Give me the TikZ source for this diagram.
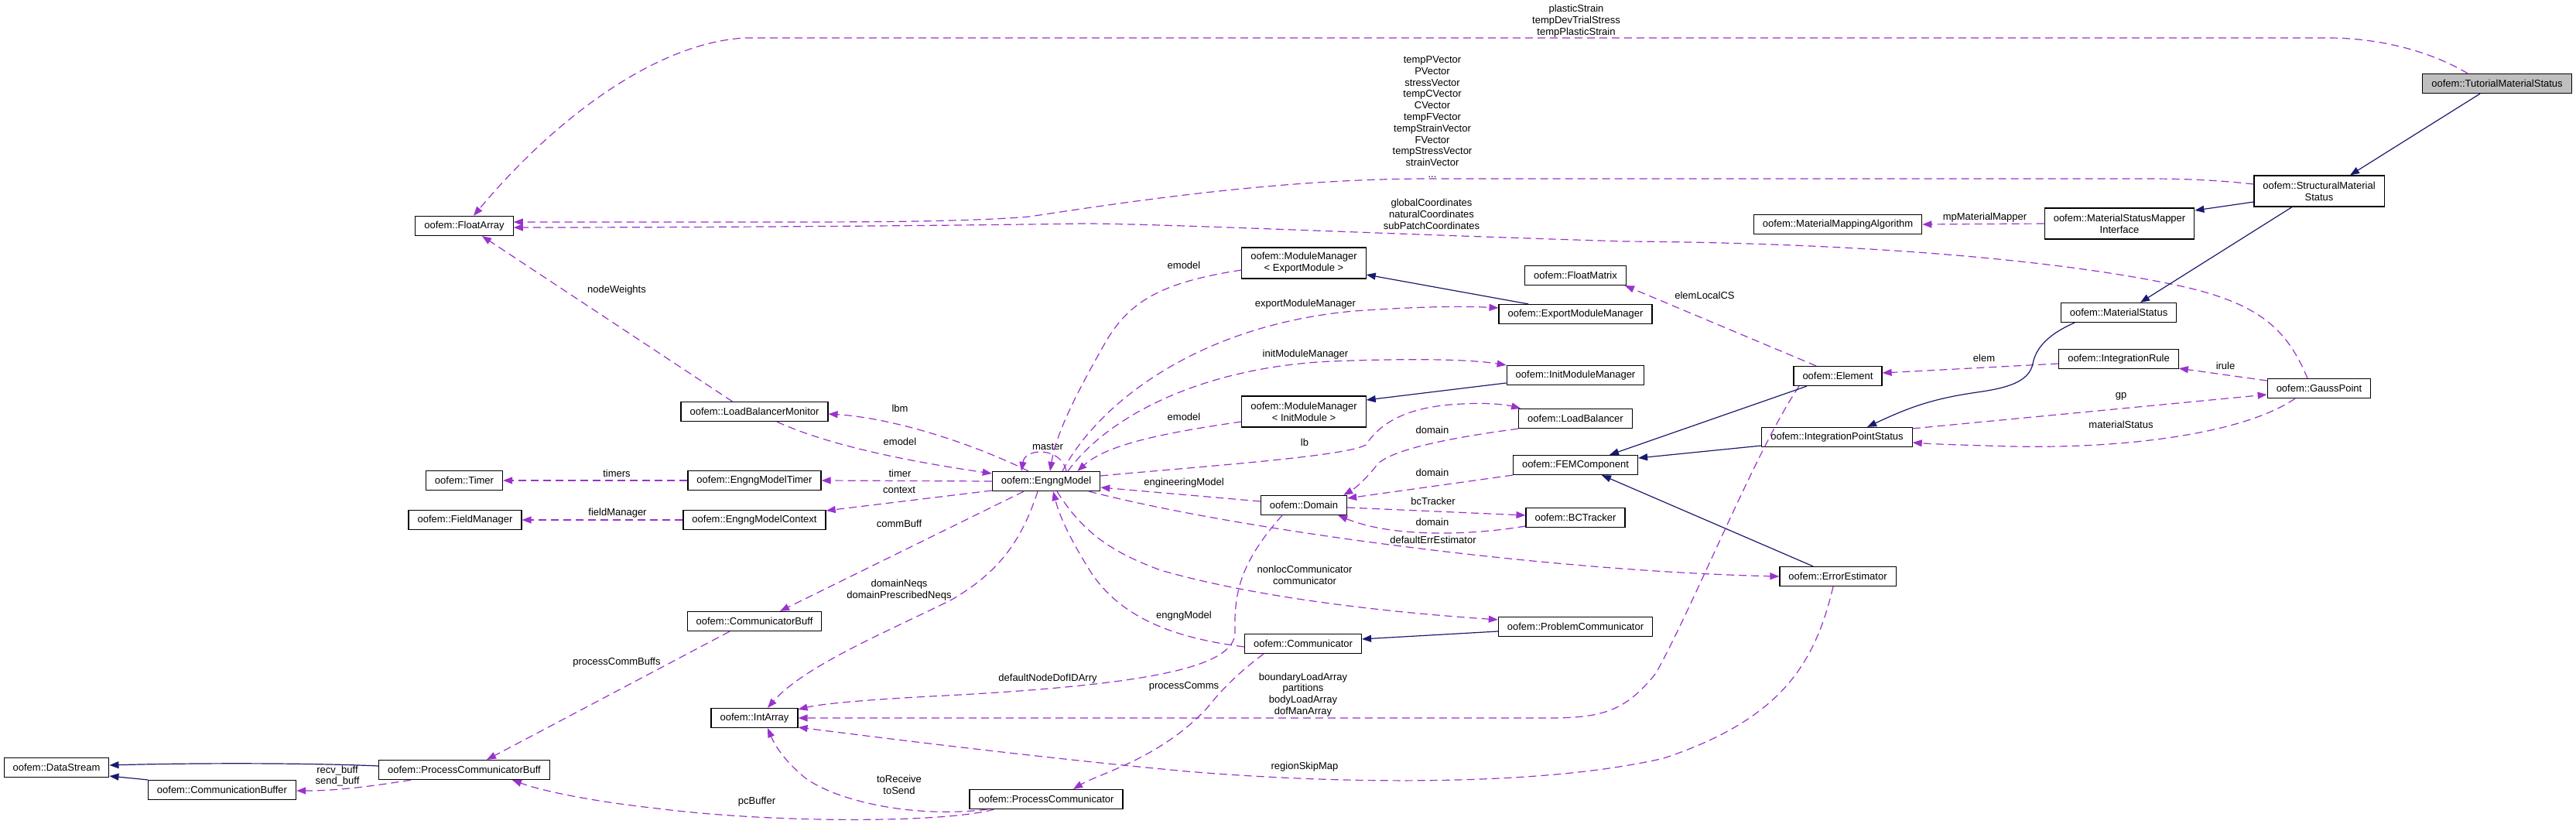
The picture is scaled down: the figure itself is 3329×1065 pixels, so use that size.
\documentclass[tikz,border=0pt]{standalone}
\usepackage{fontspec}
\newfontfamily\dg{Liberation Sans}
\usetikzlibrary{arrows.meta,calc}
\definecolor{use}{HTML}{9A32CD}
\definecolor{inh}{HTML}{191970}
\definecolor{gfill}{HTML}{BFBFBF}
\tikzset{
 box/.style={draw=black, line width=1.2pt, fill=white, font=\dg\fontsize{13}{14.8}\selectfont, inner xsep=11.5pt, inner ysep=2pt, minimum height=25pt, align=center},
 usage/.style={draw=use, line width=1.2pt, dash pattern=on 10pt off 6pt, -{Triangle[length=12pt,width=9pt,fill=use]}},
 inherit/.style={draw=inh, line width=1.2pt, -{Triangle[length=12pt,width=9pt,fill=inh]}},
 lbl/.style={font=\dg\fontsize{13}{14.8}\selectfont, align=center, inner sep=0pt},
}
\begin{document}
\begin{tikzpicture}[x=1pt,y=-1pt]
\useasboundingbox (0,0) rectangle (3329,1065);
% nodes
\node[box,fill=gfill] (tms) at (3227,108) {oofem::TutorialMaterialStatus};
\node[box,minimum height=40pt] (sms) at (2997,247) {oofem::StructuralMaterial\\Status};
\node[box,minimum height=40pt] (msmi) at (2739,289) {oofem::MaterialStatusMapper\\Interface};
\node[box] (mma) at (2375,290) {oofem::MaterialMappingAlgorithm};
\node[box] (ms) at (2738,404) {oofem::MaterialStatus};
\node[box] (ir) at (2738,464) {oofem::IntegrationRule};
\node[box] (gp) at (2997,502) {oofem::GaussPoint};
\node[box] (ips) at (2374,565) {oofem::IntegrationPointStatus};
\node[box] (el) at (2375,486) {oofem::Element};
\node[box] (ee) at (2375,745) {oofem::ErrorEstimator};
\node[box] (fm) at (2036,356) {oofem::FloatMatrix};
\node[box] (emm) at (2036,406) {oofem::ExportModuleManager};
\node[box] (imm) at (2036,485) {oofem::InitModuleManager};
\node[box] (lb) at (2036,541) {oofem::LoadBalancer};
\node[box] (femc) at (2036,601) {oofem::FEMComponent};
\node[box] (bct) at (2036,669) {oofem::BCTracker};
\node[box] (pc) at (2036,810) {oofem::ProblemCommunicator};
\node[box,minimum height=40pt] (mme) at (1685,340) {oofem::ModuleManager\\< ExportModule >};
\node[box,minimum height=40pt] (mmi) at (1685,532) {oofem::ModuleManager\\< InitModule >};
\node[box] (dom) at (1685,653) {oofem::Domain};
\node[box] (com) at (1684,832) {oofem::Communicator};
\node[box] (em) at (1352,622) {oofem::EngngModel};
\node[box] (prc) at (1352,1033) {oofem::ProcessCommunicator};
\node[box] (lbm) at (975,532) {oofem::LoadBalancerMonitor};
\node[box] (emt) at (975,621) {oofem::EngngModelTimer};
\node[box] (emc) at (975,672) {oofem::EngngModelContext};
\node[box] (cb) at (975,803) {oofem::CommunicatorBuff};
\node[box] (ia) at (975,928) {oofem::IntArray};
\node[box] (fa) at (600,292) {oofem::FloatArray};
\node[box] (tim) at (600,621) {oofem::Timer};
\node[box] (fld) at (601,672) {oofem::FieldManager};
\node[box] (pcb) at (600,995) {oofem::ProcessCommunicatorBuff};
\node[box] (ds) at (73,992) {oofem::DataStream};
\node[box] (cbuf) at (287,1021) {oofem::CommunicationBuffer};
% labels
\node[lbl] (l1) at (2037,27) {plasticStrain\\tempDevTrialStress\\tempPlasticStrain};
\node[lbl] (l2) at (1851,151) {tempPVector\\PVector\\stressVector\\tempCVector\\CVector\\tempFVector\\tempStrainVector\\FVector\\tempStressVector\\strainVector\\...};
\node[lbl] (l3) at (1850,277) {globalCoordinates\\naturalCoordinates\\subPatchCoordinates};
\node[lbl] (l4) at (2565,281) {mpMaterialMapper};
\node[lbl] (l5) at (436,1003) {recv\_buff\\send\_buff};
\node[lbl] (l6) at (978,1036) {pcBuffer};
\node[lbl] (l7) at (1162,1014) {toReceive\\toSend};
\node[lbl] (l8) at (1163,528) {lbm};
\node[lbl] (l9) at (1163,571) {emodel};
\node[lbl] (l10) at (1163,612) {timer};
\node[lbl] (l11) at (797,612) {timers};
\node[lbl] (l12) at (1162,633) {context};
\node[lbl] (l13) at (798,663) {fieldManager};
\node[lbl] (l14) at (1162,677) {commBuff};
\node[lbl] (l15) at (797,856) {processCommBuffs};
\node[lbl] (l16) at (1162,763) {domainNeqs\\domainPrescribedNeqs};
\node[lbl] (l17) at (1354,577) {master};
\node[lbl] (l18) at (1530,343) {emodel};
\node[lbl] (l19) at (1687,393) {exportModuleManager};
\node[lbl] (l20) at (1687,458) {initModuleManager};
\node[lbl] (l21) at (1530,539) {emodel};
\node[lbl] (l22) at (1686,572) {lb};
\node[lbl] (l23) at (1851,556) {domain};
\node[lbl] (l24) at (1851,611) {domain};
\node[lbl] (l25) at (1852,648) {bcTracker};
\node[lbl] (l26) at (1851,675) {domain};
\node[lbl] (l27) at (1530,624) {engineeringModel};
\node[lbl] (l28) at (1852,698) {defaultErrEstimator};
\node[lbl] (l29) at (1686,743) {nonlocCommunicator\\communicator};
\node[lbl] (l30) at (1530,796) {engngModel};
\node[lbl] (l31) at (1354,877) {defaultNodeDofIDArry};
\node[lbl] (l32) at (1530,887) {processComms};
\node[lbl] (l33) at (1684,898) {boundaryLoadArray\\partitions\\bodyLoadArray\\dofManArray};
\node[lbl] (l34) at (1686,991) {regionSkipMap};
\node[lbl] (l35) at (2203,382) {elemLocalCS};
\node[lbl] (l36) at (2564,463) {elem};
\node[lbl] (l37) at (2876,473) {irule};
\node[lbl] (l38) at (2741,512) {gp};
\node[lbl] (l39) at (2741,549) {materialStatus};
\node[lbl] (l40) at (797,375) {nodeWeights};
% usage edges
\draw[usage] ($(tms.north)+(-38,0)$) .. controls (3130,60) and (3060,49) .. (3009,49) -- (963,49) .. controls (850,55) and (720,150) .. ($(fa.north)+(12,0)$);
\draw[usage] ($(sms.west)+(0,-9)$) .. controls (2850,231) and (2800,231) .. (2766,231) -- (1846,231) .. controls (1650,231) and (1450,262) .. (1330,280) .. controls (1250,287) and (1100,287) .. (1000,287) -- ($(fa.east)+(0,-5)$);
\draw[usage] ($(gp.north)+(-15,0)$) .. controls (2955,425) and (2920,390) .. (2805,367) .. controls (2650,335) and (2400,314) .. (2100,312) .. controls (1800,303) and (1500,289) .. (1400,289) .. controls (1200,292) and (900,294) .. ($(fa.east)+(0,2)$);
\draw[usage] (msmi.west) -- (mma.east);
\draw[usage] ($(pcb.south west)+(42,0)$) .. controls (470,1018) and (430,1022) .. ($(cbuf.east)+(0,1)$);
\draw[usage] ($(prc.south west)+(32,0)$) .. controls (1220,1064) and (1000,1064) .. (850,1045) .. controls (760,1035) and (700,1022) .. ($(pcb.south east)+(-49,0)$);
\draw[usage] ($(prc.south west)+(23,0)$) .. controls (1180,1058) and (1080,1035) .. (1040,1005) .. controls (1010,980) and (1000,960) .. ($(ia.south)+(17,0)$);
\draw[usage] ($(em.north)+(-23,0)$) .. controls (1250,570) and (1150,540) .. ($(lbm.east)+(0,3)$);
\draw[usage] ($(lbm.south)+(29,0)$) .. controls (1080,580) and (1200,600) .. ($(em.west)+(0,-10)$);
\draw[usage] (em.west) -- (emt.east);
\draw[usage] (emt.west) -- (tim.east);
\draw[usage] ($(em.west)+(0,12)$) -- ($(emc.east)+(0,-12)$);
\draw[usage] (emc.west) -- (fld.east);
\draw[usage] ($(em.south)+(-29,0)$) -- ($(cb.north)+(33,0)$);
\draw[usage] ($(cb.south)+(-32,0)$) -- ($(pcb.north)+(29,0)$);
\draw[usage] ($(em.south)+(-11,0)$) .. controls (1320,700) and (1290,740) .. (1230,775) .. controls (1150,815) and (1040,860) .. ($(ia.north)+(17,0)$);
\draw[usage] ($(em.north)+(26,0)$) .. controls (1372,578) and (1325,578) .. ($(em.north)+(-32,0)$);
\draw[usage] ($(mme.west)+(0,9)$) .. controls (1500,365) and (1460,390) .. (1430,440) .. controls (1390,510) and (1365,560) .. ($(em.north)+(5,0)$);
\draw[usage] ($(em.north)+(21,0)$) .. controls (1420,520) and (1550,420) .. (1750,402) .. controls (1850,395) and (1900,396) .. ($(emm.west)+(0,-8)$);
\draw[usage] ($(em.north)+(28,0)$) .. controls (1430,540) and (1550,475) .. (1720,467) .. controls (1850,462) and (1910,466) .. (imm.north west);
\draw[usage] ($(mmi.west)+(0,13)$) .. controls (1500,560) and (1430,575) .. ($(em.north east)+(-30,0)$);
\draw[usage] ($(em.east)+(0,-7)$) .. controls (1550,603) and (1740,590) .. (1765,575) .. controls (1785,545) and (1820,525) .. (1890,522) .. controls (1930,520) and (1950,524) .. ($(lb.north west)+(3,0)$);
\draw[usage] (lb.south west) .. controls (1880,565) and (1800,580) .. (1780,600) .. controls (1765,620) and (1750,632) .. ($(dom.north east)+(-5,0)$);
\draw[usage] (femc.south west) -- ($(dom.east)+(0,-9)$);
\draw[usage] ($(dom.east)+(0,3)$) -- ($(bct.west)+(0,-3)$);
\draw[usage] ($(bct.west)+(0,11)$) .. controls (1900,692) and (1800,695) .. ($(dom.south east)+(-12,0)$);
\draw[usage] ($(dom.west)+(0,-5)$) -- ($(em.east)+(0,8)$);
\draw[usage] ($(em.south east)+(-15,0)$) .. controls (1600,685) and (2000,738) .. (ee.west);
\draw[usage] ($(em.south)+(14,0)$) .. controls (1400,690) and (1440,715) .. (1500,737) .. controls (1650,780) and (1850,795) .. ($(pc.west)+(0,-9)$);
\draw[usage] ($(com.west)+(0,4)$) .. controls (1520,825) and (1450,800) .. (1410,740) .. controls (1385,700) and (1370,670) .. ($(em.south)+(9,0)$);
\draw[usage] ($(dom.south)+(-28,0)$) .. controls (1600,730) and (1595,770) .. (1596,817) .. controls (1596,860) and (1500,885) .. (1203,900) .. controls (1110,905) and (1060,910) .. ($(ia.north east)+(0,2)$);
\draw[usage] ($(com.south west)+(25,0)$) .. controls (1600,870) and (1580,890) .. (1560,915) .. controls (1500,980) and (1420,1000) .. ($(prc.north)+(35,0)$);
\draw[usage] ($(el.south)+(-50,0)$) .. controls (2270,580) and (2190,780) .. (2140,870) .. controls (2100,920) and (2070,928) .. (2000,928) -- (ia.east);
\draw[usage] ($(ee.south)+(-6,0)$) .. controls (2345,860) and (2300,930) .. (2150,980) .. controls (2000,1015) and (1750,1015) .. (1534,997) .. controls (1350,980) and (1150,955) .. ($(ia.east)+(0,12)$);
\draw[usage] ($(el.north)+(-28,0)$) -- ($(fm.south east)+(-2,0)$);
\draw[usage] ($(ir.west)+(0,6)$) -- ($(el.east)+(0,-4)$);
\draw[usage] ($(gp.west)+(0,-10)$) -- ($(ir.south east)+(0,-1)$);
\draw[usage] ($(ips.north east)+(0,2)$) -- ($(gp.west)+(0,8)$);
\draw[usage] ($(gp.south)+(-31,0)$) .. controls (2900,560) and (2750,580) .. (2600,577) .. controls (2530,575) and (2500,574) .. ($(ips.east)+(0,7)$);
\draw[usage] ($(lbm.north west)+(67,0)$) -- ($(fa.south)+(23,0)$);
% inheritance edges
\draw[inherit] ($(tms.south)+(-22,0)$) -- ($(sms.north)+(40,0)$);
\draw[inherit] ($(sms.west)+(0,14)$) -- ($(msmi.east)+(0,-17)$);
\draw[inherit] ($(sms.south)+(-35,0)$) -- ($(ms.north)+(28,0)$);
\draw[inherit] ($(ms.south)+(-57,0)$) .. controls (2640,435) and (2630,455) .. (2627,470) .. controls (2622,495) and (2590,502) .. (2555,507) .. controls (2500,515) and (2470,525) .. ($(ips.north)+(39,0)$);
\draw[inherit] ($(ips.west)+(0,11)$) -- ($(femc.east)+(0,-9)$);
\draw[inherit] ($(el.south)+(-40,0)$) -- ($(femc.north)+(44,0)$);
\draw[inherit] ($(ee.north)+(-32,0)$) -- ($(femc.south)+(34,0)$);
\draw[inherit] ($(pc.west)+(0,6)$) -- ($(com.east)+(0,-6)$);
\draw[inherit] ($(emm.north)+(-61,0)$) -- ($(mme.east)+(0,15)$);
\draw[inherit] ($(imm.west)+(0,10)$) -- ($(mmi.east)+(0,-15)$);
\draw[inherit] ($(pcb.west)+(0,-5)$) .. controls (400,986) and (250,986) .. ($(ds.east)+(0,-3)$);
\draw[inherit] (cbuf.north west) -- ($(ds.east)+(0,11)$);
\end{tikzpicture}
\end{document}
